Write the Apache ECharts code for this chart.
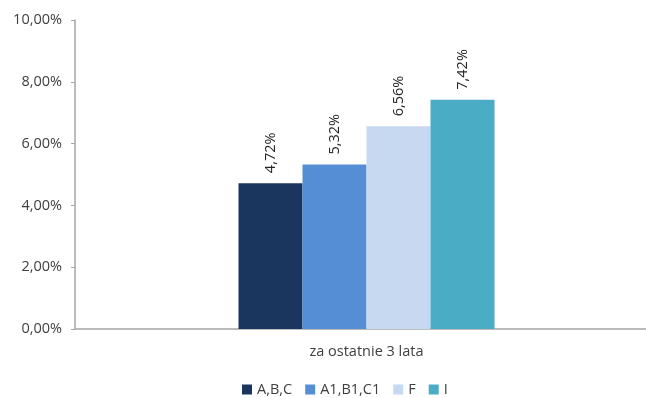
<!DOCTYPE html>
<html><head><meta charset="utf-8">
<script src="https://cdn.jsdelivr.net/npm/echarts@6/dist/echarts.min.js"></script>
<style>html,body{margin:0;padding:0;background:#fff}#c{width:646px;height:398px}</style>
</head><body><div id="c"></div>
<script>
const categories = ['za ostatnie 3 lata'];
const seriesNames = ['A,B,C', 'A1,B1,C1', 'F', 'I'];
const valuesABC = [4.72];
const valuesA1B1C1 = [5.32];
const valuesF = [6.56];
const valuesI = [7.42];
const colors = ['#1a365e', '#558ed5', '#c6d9f1', '#4bacc6'];
const allValues = [valuesABC, valuesA1B1C1, valuesF, valuesI];
const fmt = v => v.toFixed(2).replace('.', ',') + '%';
const font = 'Open Sans, Liberation Sans, Arial, sans-serif';
const chart = echarts.init(document.getElementById('c'));
chart.setOption({
  animation: false,
  grid: { left: 75, top: 20, width: 583, height: 309, containLabel: false, outerBoundsMode: 'none' },
  legend: {
    bottom: -4, left: 237, itemWidth: 10, itemHeight: 10, itemGap: 13,
    icon: 'rect',
    textStyle: { fontFamily: font, fontSize: 14.5, color: '#404040' },
    data: seriesNames
  },
  xAxis: {
    type: 'category', data: categories,
    axisLine: { lineStyle: { color: '#a6a6a6', width: 1.5 } },
    axisTick: { show: false },
    axisLabel: { fontFamily: font, fontSize: 14.5, color: '#404040', margin: 15 }
  },
  yAxis: {
    type: 'value', min: 0, max: 10, interval: 2,
    axisLine: { show: true, lineStyle: { color: '#a6a6a6', width: 1.5 } },
    axisTick: { show: true, inside: false, length: 4, lineStyle: { color: '#a6a6a6' } },
    splitLine: { show: false },
    axisLabel: { fontFamily: font, fontSize: 14.5, color: '#404040', margin: 13, formatter: v => fmt(v) }
  },
  series: seriesNames.map((n, i) => ({
    name: n, type: 'bar', data: allValues[i], barWidth: 64, barGap: '0%',
    itemStyle: { color: colors[i] },
    label: {
      show: true, position: 'top', rotate: 90, align: 'left', verticalAlign: 'middle',
      distance: 10, fontFamily: font, fontSize: 14.5, color: '#262626',
      formatter: p => fmt(p.value)
    }
  }))
});
</script></body></html>
